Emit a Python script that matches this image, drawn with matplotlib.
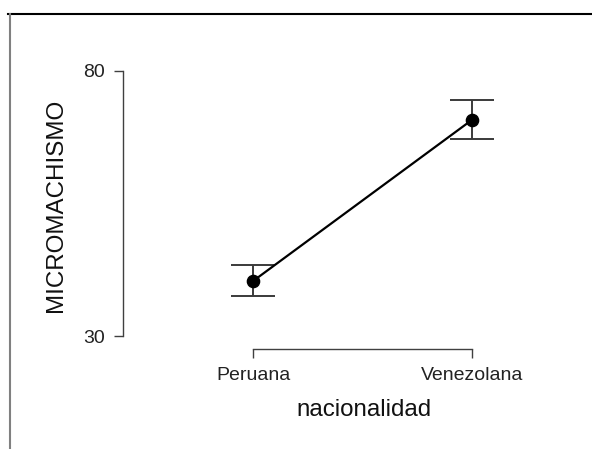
import matplotlib
matplotlib.use("Agg")
import matplotlib.pyplot as plt
from matplotlib.lines import Line2D

plt.rcParams['font.family'] = ['Liberation Sans', 'DejaVu Sans']

# Group means and error half-widths
categories = ["Peruana", "Venezolana"]
means = [40.4, 70.8]
errors = [2.9, 3.7]
y_ticks = [30, 80]
x_label = "nacionalidad"
y_label = "MICROMACHISMO"

W, H = 592, 449
fig = plt.figure(figsize=(W / 100, H / 100), dpi=100)

# Axes placed in pixel terms
left_px, right_px, top_px, bottom_px = 123, 560, 40, 349
ax = fig.add_axes([left_px / W, 1 - bottom_px / H,
                   (right_px - left_px) / W, (bottom_px - top_px) / H])

x = [1, 2]
ax.errorbar(x, means, yerr=errors, fmt='none', ecolor='#3a3a3a',
            elinewidth=1.4, capsize=15.5, capthick=1.4, zorder=2)
ax.plot(x, means, color='black', lw=1.6, zorder=3)
ax.plot(x, means, 'o', color='black', markersize=8.8, zorder=4)

ax.set_xlim(0.405, 2.40)
ax.set_ylim(27.55, 85.8)

for s in ['top', 'right']:
    ax.spines[s].set_visible(False)
ax.spines['left'].set_bounds(30, 80)
ax.spines['bottom'].set_bounds(1, 2)
for s in ['left', 'bottom']:
    ax.spines[s].set_color('#404040')
    ax.spines[s].set_linewidth(1.0)

ax.set_xticks(x)
ax.set_xticklabels(categories)
ax.set_yticks(y_ticks)
ax.tick_params(axis='both', direction='out', length=6.8, width=1.0,
               color='#404040', labelsize=14, labelcolor='#222222')
ax.tick_params(axis='y', pad=6.5)
ax.tick_params(axis='x', pad=6)

# Axis titles
fig.text(364 / W, 1 - 410 / H, x_label, fontsize=17.4, color='#111111',
         ha='center', va='center')
fig.text(56 / W, 1 - 205 / H, y_label, fontsize=17.4, color='#111111',
         ha='center', va='center', rotation=90)

# Frame lines around the panel
fig.add_artist(Line2D([8 / W, 1], [1 - 14 / H, 1 - 14 / H],
                      transform=fig.transFigure, color='black', lw=1.5))
fig.add_artist(Line2D([9.5 / W, 9.5 / W], [0, 1 - 14 / H],
                      transform=fig.transFigure, color='#808080', lw=1.5))

fig.savefig("out.png", dpi=100)
